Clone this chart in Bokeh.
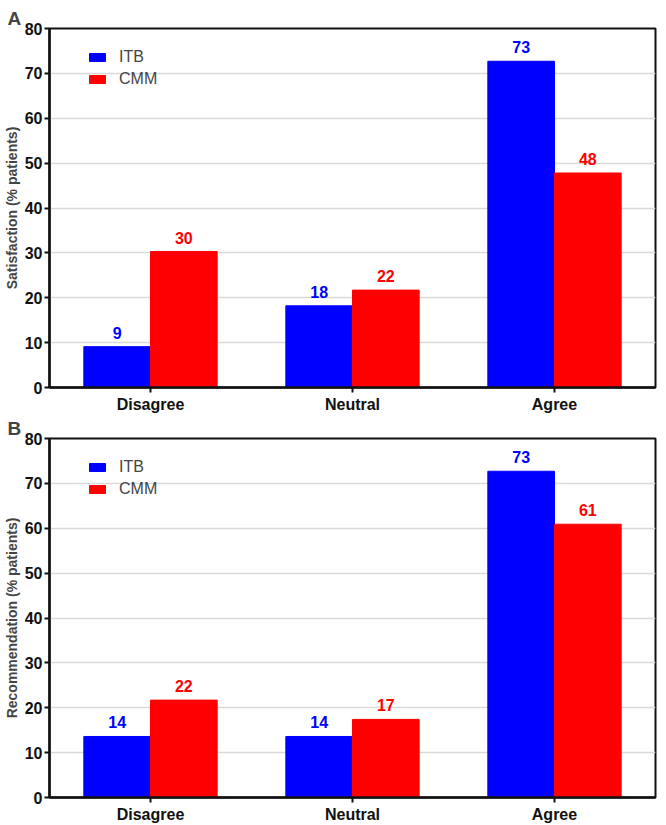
from bokeh.plotting import figure
from bokeh.layouts import column
from bokeh.models import ColumnDataSource, Legend, LegendItem
from bokeh.transform import dodge
from bokeh.core.properties import value
from bokeh.embed import file_html
from bokeh.resources import INLINE

categories = ["Disagree", "Neutral", "Agree"]
series = ["ITB", "CMM"]
sat_itb = [9.1, 18.2, 72.7]
sat_cmm = [30.3, 21.7, 47.8]
rec_itb = [13.6, 13.6, 72.7]
rec_cmm = [21.7, 17.4, 60.9]
yticks = [0, 10, 20, 30, 40, 50, 60, 70, 80]

BLUE = "#0000ff"
RED = "#ff0000"
FONT = "Liberation Sans"
FW, FH = 606, 359


def make_panel(letter, ylabel, itb, cmm, border_top):
    src = ColumnDataSource(dict(
        cat=categories, itb=itb, cmm=cmm,
        itb_lbl=[str(round(v)) for v in itb],
        cmm_lbl=[str(round(v)) for v in cmm],
    ))
    p = figure(x_range=categories, y_range=(0, 80), frame_width=FW, frame_height=FH,
               output_backend="svg", toolbar_location=None,
               min_border_left=40, min_border_right=3, min_border_top=border_top,
               min_border_bottom=0)
    p.title.text = letter
    p.title.text_font = FONT
    p.title.text_font_size = "19px"
    p.title.text_font_style = "bold"
    p.title.align = "left"
    p.title.offset = -42
    p.title.standoff = 0

    r1 = p.vbar(x=dodge("cat", -0.165, range=p.x_range), top="itb", width=0.33,
                source=src, fill_color=BLUE, line_color=BLUE)
    r2 = p.vbar(x=dodge("cat", 0.165, range=p.x_range), top="cmm", width=0.33,
                source=src, fill_color=RED, line_color=RED)
    p.text(x=dodge("cat", -0.165, range=p.x_range), y="itb", text="itb_lbl", source=src,
           text_color=BLUE, text_font=value(FONT), text_font_style="bold",
           text_font_size="16px", text_align="center", text_baseline="bottom", y_offset=-8)
    p.text(x=dodge("cat", 0.165, range=p.x_range), y="cmm", text="cmm_lbl", source=src,
           text_color=RED, text_font=value(FONT), text_font_style="bold",
           text_font_size="16px", text_align="center", text_baseline="bottom", y_offset=-8)

    legend = Legend(items=[LegendItem(label=series[0], renderers=[r1]),
                           LegendItem(label=series[1], renderers=[r2])],
                    location=(38, FH - 20 - 40))
    legend.border_line_color = None
    legend.background_fill_alpha = 0
    legend.label_text_font = FONT
    legend.label_text_font_size = "16px"
    legend.glyph_width = 20
    legend.glyph_height = 10
    legend.label_standoff = 12
    legend.spacing = 4
    legend.margin = 0
    legend.padding = 0
    p.add_layout(legend)

    p.yaxis.ticker = yticks
    p.yaxis.axis_label = ylabel
    p.yaxis.axis_label_text_font = FONT
    p.yaxis.axis_label_text_font_size = "14px"
    p.yaxis.axis_label_text_font_style = "bold"
    p.yaxis.axis_label_standoff = 2
    for ax in (p.xaxis, p.yaxis):
        ax.major_label_text_font = FONT
        ax.major_label_text_font_style = "bold"
        ax.major_label_text_color = "#111111"
        ax.axis_line_width = 2.5
        ax.axis_line_color = "#111111"
        ax.major_tick_line_width = 2
        ax.major_tick_line_color = "#111111"
        ax.major_tick_in = 0
        ax.major_tick_out = 5
        ax.minor_tick_line_color = None
    p.yaxis.major_label_text_font_size = "16px"
    p.xaxis.major_label_text_font_size = "16px"
    p.xaxis.major_label_standoff = 3
    p.yaxis.major_label_standoff = 2

    p.xgrid.grid_line_color = None
    p.ygrid.grid_line_color = "#d9d9d9"
    p.ygrid.grid_line_width = 1.5
    p.outline_line_color = "#111111"
    p.outline_line_width = 2
    p.x_range.range_padding = 0
    return p


pa = make_panel("A", "Satisfaction (% patients)", sat_itb, sat_cmm, 28)
pb = make_panel("B", "Recommendation (% patients)", rec_itb, rec_cmm, 15)

layout = column(pa, pb, spacing=0)
open("out.html", "w").write(file_html(layout, INLINE))
